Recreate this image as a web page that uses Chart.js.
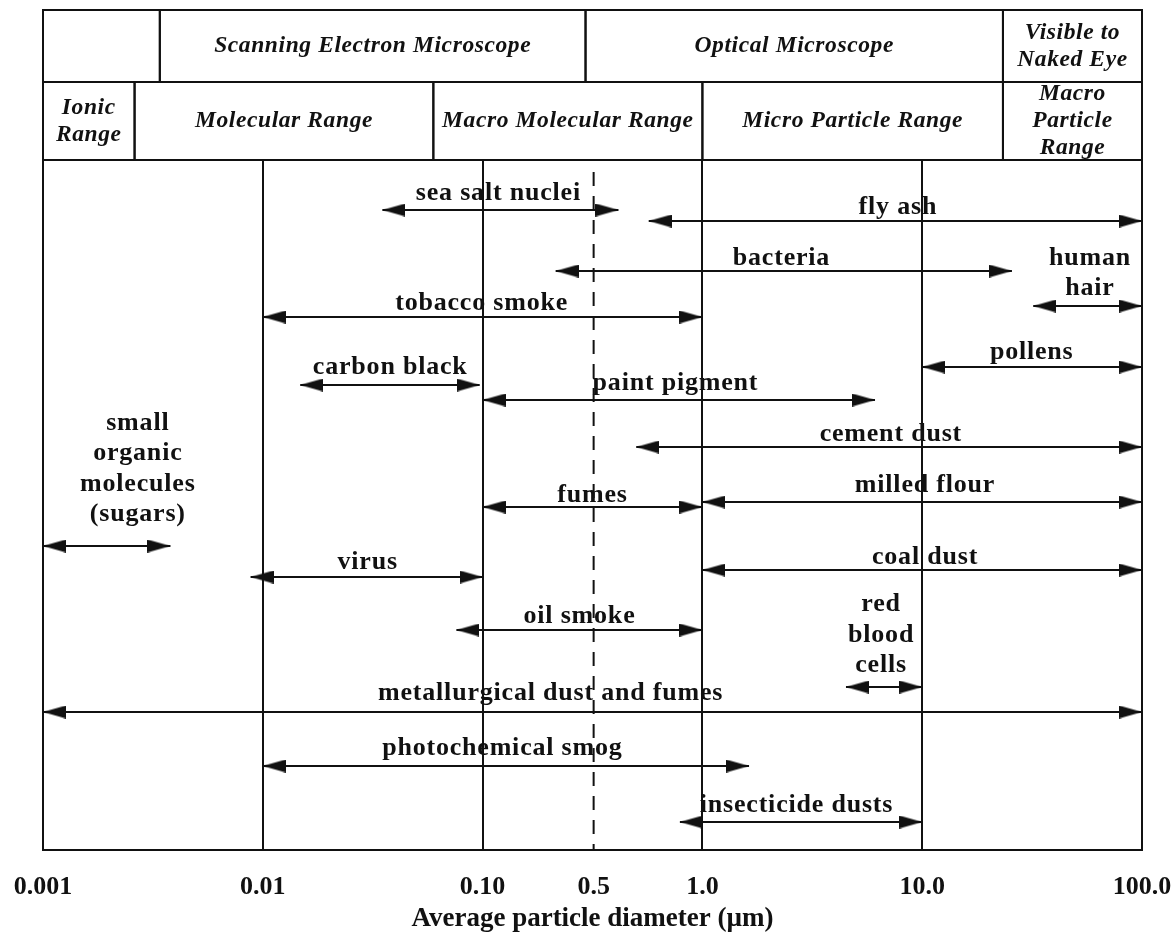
<!DOCTYPE html>
<html><head><meta charset="utf-8">
<script src="https://cdn.jsdelivr.net/npm/chart.js@4.4.0/dist/chart.umd.min.js"></script>
<style>html,body{margin:0;padding:0;background:#fff;}</style>
</head><body>
<canvas id="c" width="1173" height="940" style="width:1173px;height:940px;display:block"></canvas>
<script>
// ---- axis ticks ----
const tickValues = [0.001, 0.01, 0.1, 0.32, 1, 10, 100];
const tickLabels = ['0.001', '0.01', '0.10', '0.5', '1.0', '10.0', '100.0'];
const dashedLineAt = 0.32;
const axisTitle = 'Average particle diameter (\u00b5m)';

// ---- particle size ranges (µm) ----
const particleNames = ['sea salt nuclei', 'fly ash', 'bacteria', 'human hair', 'tobacco smoke', 'carbon black',
  'paint pigment', 'pollens', 'cement dust', 'milled flour', 'fumes', 'small organic molecules (sugars)',
  'coal dust', 'virus', 'oil smoke', 'red blood cells', 'metallurgical dust and fumes', 'photochemical smog',
  'insecticide dusts'];
const sizeFrom = [0.035, 0.57, 0.215, 32, 0.01, 0.0148, 0.1, 10, 0.5, 1.0, 0.1, 0.001, 1.0, 0.0088, 0.076, 4.5, 0.001, 0.01, 0.79];
const sizeTo   = [0.415, 100, 25.6, 100, 1.0, 0.097, 6.1, 100, 100, 100, 1.0, 0.0038, 100, 0.1, 1.0, 10, 100, 1.63, 10];
// vertical row level of each arrow (0 = top of plot, 69 = bottom)
const rowLevel = [5.0, 6.1, 11.1, 14.6, 15.7, 22.5, 24.0, 20.7, 28.7, 34.2, 34.7, 38.6, 41.0, 41.7, 47.0, 52.7, 55.2, 60.6, 66.2];

// ---- text labels of the arrows ----
const labelText = ['sea salt nuclei', 'fly ash', 'bacteria', 'human\nhair', 'tobacco smoke', 'carbon black',
  'paint pigment', 'pollens', 'cement dust', 'milled flour', 'fumes', 'small\norganic\nmolecules\n(sugars)',
  'coal dust', 'virus', 'oil smoke', 'red\nblood\ncells', 'metallurgical dust and fumes', 'photochemical smog',
  'insecticide dusts'];
const labelAt    = [0.118, 7.75, 2.29, 58, 0.099, 0.038, 0.754, 31.5, 7.2, 10.3, 0.316, 0.0027, 10.3, 0.03, 0.276, 6.5, 0.204, 0.123, 2.68];
const labelLevel = [3.3, 4.7, 9.8, 11.35, 14.3, 20.7, 22.3, 19.2, 27.4, 32.5, 33.5, 30.9, 39.7, 40.2, 45.6, 47.5, 53.3, 58.8, 64.5];

// ---- header bands ----
const instrumentNames = ['', 'Scanning Electron Microscope', 'Optical Microscope', 'Visible to\nNaked Eye'];
const instrumentEdges = [0.001, 0.0034, 0.294, 23.3, 100];
const rangeNames = ['Ionic\nRange', 'Molecular Range', 'Macro Molecular Range', 'Micro Particle Range', 'Macro\nParticle\nRange'];
const rangeEdges = [0.001, 0.00261, 0.0597, 1, 23.3, 100];

const INK = '#111';
const SERIF = '"Liberation Serif", "DejaVu Serif", serif';

// arrowhead image: tip at the image centre, pointing right
function makeHead(len, wid) {
  const c = document.createElement('canvas');
  c.width = len * 2; c.height = wid;
  const g = c.getContext('2d');
  g.fillStyle = INK;
  g.beginPath(); g.moveTo(0, 0); g.lineTo(len, wid / 2); g.lineTo(0, wid); g.closePath(); g.fill();
  return c;
}
const head = makeHead(23, 13);

const datasets = particleNames.map((name, i) => ({
  label: name,
  data: [{x: sizeFrom[i], y: rowLevel[i]}, {x: sizeTo[i], y: rowLevel[i]}],
  borderColor: INK, borderWidth: 2, tension: 0,
  pointStyle: head, pointRotation: [180, 0], pointRadius: 3, pointHoverRadius: 3,
  clip: false
}));
datasets.push({
  label: '0.5 marker',
  data: [{x: dashedLineAt, y: 1.2}, {x: dashedLineAt, y: 69}],
  borderColor: INK, borderWidth: 2, borderDash: [14, 10], pointRadius: 0, clip: false
});

const labelPlugin = {
  id: 'arrowLabels',
  afterDatasetsDraw(chart) {
    const {ctx, scales: {x, y}} = chart;
    ctx.save();
    ctx.fillStyle = INK;
    ctx.font = 'bold 26px ' + SERIF;
    ctx.letterSpacing = '0.8px';
    ctx.textAlign = 'center'; ctx.textBaseline = 'middle';
    labelText.forEach((t, i) => {
      const lines = t.split('\n');
      const cx = x.getPixelForValue(labelAt[i]);
      const cy = y.getPixelForValue(labelLevel[i]);
      lines.forEach((ln, k) => ctx.fillText(ln, cx, cy + (k - (lines.length - 1) / 2) * 30.5));
    });
    ctx.restore();
  }
};

const headerPlugin = {
  id: 'header',
  afterDraw(chart) {
    const {ctx, chartArea: a, scales: {x}} = chart;
    const rows = [
      {names: instrumentNames, edges: instrumentEdges, top: a.top - 150, bottom: a.top - 78, lh: 27},
      {names: rangeNames, edges: rangeEdges, top: a.top - 78, bottom: a.top, lh: 27}
    ];
    ctx.save();
    ctx.strokeStyle = INK; ctx.lineWidth = 2; ctx.fillStyle = INK;
    ctx.font = 'italic bold 23.5px ' + SERIF;
    ctx.letterSpacing = '0.6px';
    ctx.textAlign = 'center'; ctx.textBaseline = 'middle';
    rows.forEach(r => {
      r.names.forEach((n, i) => {
        const x0 = x.getPixelForValue(r.edges[i]), x1 = x.getPixelForValue(r.edges[i + 1]);
        ctx.strokeRect(x0, r.top, x1 - x0, r.bottom - r.top);
        const lines = n ? n.split('\n') : [];
        const cy = (r.top + r.bottom) / 2;
        lines.forEach((ln, k) => ctx.fillText(ln, (x0 + x1) / 2, cy + (k - (lines.length - 1) / 2) * r.lh));
      });
    });
    ctx.restore();
  }
};

Chart.defaults.font.family = SERIF;
Chart.defaults.color = INK;

new Chart(document.getElementById('c'), {
  type: 'line',
  data: {datasets},
  plugins: [labelPlugin, headerPlugin],
  options: {
    responsive: false,
    animation: false,
    events: [],
    layout: {padding: {left: 43, right: 31, top: 160, bottom: 1}},
    plugins: {legend: {display: false}, tooltip: {enabled: false}},
    scales: {
      x: {
        type: 'logarithmic', min: 0.001, max: 100,
        afterBuildTicks: s => { s.ticks = tickValues.map(v => ({value: v})); },
        afterFit: s => { s.height = 89; },
        ticks: {
          autoSkip: false, maxRotation: 0, padding: 0, color: INK,
          font: {size: 26, weight: 'bold'},
          callback: (v, i) => tickLabels[i]
        },
        grid: {
          drawTicks: true, tickLength: 22, tickColor: 'rgba(0,0,0,0)', lineWidth: 2,
          color: c => (c.tick && c.tick.value === dashedLineAt) ? 'rgba(0,0,0,0)' : INK
        },
        border: {display: true, color: INK, width: 2},
        title: {display: true, text: axisTitle, color: INK, font: {size: 27, weight: 'bold'}, padding: {top: 4, bottom: 4}}
      },
      y: {type: 'linear', min: 0, max: 69, reverse: true, display: false}
    }
  }
});
</script>
</body></html>
